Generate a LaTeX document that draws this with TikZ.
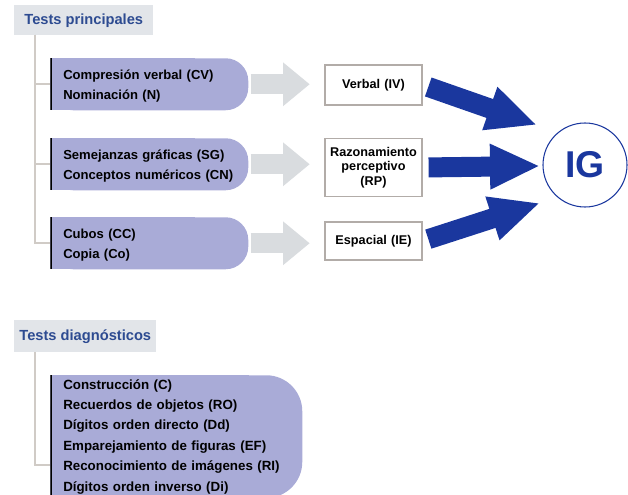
\documentclass[tikz,border=0pt]{standalone}
\usepackage{fontspec}
\setmainfont{Liberation Sans}
\usepackage{tikz}
\usetikzlibrary{arrows.meta}

\definecolor{lavfill}{RGB}{169,171,215}
\definecolor{hdrgray}{RGB}{226,229,233}
\definecolor{titleblue}{RGB}{45,75,145}
\definecolor{trunkgray}{RGB}{208,203,198}
\definecolor{boxgray}{RGB}{178,172,168}
\definecolor{arrgray}{RGB}{217,220,223}
\definecolor{igblue}{RGB}{26,55,158}

\tikzset{
  hdr/.style={fill=hdrgray, anchor=north west, inner xsep=0pt, minimum height=22.5pt,
    text=titleblue, font=\fontsize{11}{13}\selectfont\bfseries},
  itembox/.style={anchor=north west, inner xsep=9.75pt, inner ysep=0pt, align=left,
    minimum width=147pt, minimum height=39pt, text width=129pt,
    font=\fontsize{9.8}{15}\selectfont\bfseries,
    path picture={
      \fill[lavfill, rounded corners=#1] (path picture bounding box.south west) rectangle (path picture bounding box.north east);
      \fill[lavfill] (path picture bounding box.south west) rectangle ([xshift=-40pt]path picture bounding box.north east);
      \draw[line width=3pt] (path picture bounding box.south west) -- (path picture bounding box.north west);
    }},
  itembox/.default=17pt,
  smallitem/.style={itembox, text height=10pt},
  labelbox/.style={draw=boxgray, line width=0.9pt, minimum width=72.75pt, text width=70pt,
    inner xsep=0pt, align=center, font=\fontsize{9.5}{10.8}\selectfont\bfseries},
  trunk/.style={draw=trunkgray, line width=1.2pt},
  grayarr/.style={draw=arrgray, line width=15pt, -{Triangle[length=20pt,width=31.5pt]},
    shorten <=1.5pt, shorten >=11pt},
  bluearr/.style={draw=igblue, line width=15pt, -{Triangle[length=37.5pt,width=31.5pt]},
    shorten <=4.5pt}
}

\begin{document}
\begin{tikzpicture}[x=0.75pt,y=0.75pt,yscale=-1,xscale=1]
\path[use as bounding box] (0,0) rectangle (628,495);

% headers
\node[hdr, minimum width=104.25pt] (hdrA) at (14,5) {Tests principales};
\node[hdr, minimum width=106.5pt, minimum height=24pt] (hdrB) at (14,320) {Tests diagn\'osticos};

% subtests
\node[smallitem] (cv) at (50,58) {Compresi\'on verbal (CV)\\Nominaci\'on (N)};
\node[smallitem] (sg) at (50,138) {Semejanzas gr\'aficas (SG)\\Conceptos num\'ericos (CN)};
\node[smallitem] (cc) at (50,217) {Cubos (CC)\\Copia (Co)};
\node[itembox=27pt, minimum width=189pt, text width=169.5pt, minimum height=92pt,
  font=\fontsize{10}{15.3}\selectfont\bfseries] (diag) at (50,375)
  {Construcci\'on (C)\\Recuerdos de objetos (RO)\\D\'igitos orden directo (Dd)\\Emparejamiento de figuras (EF)\\Reconocimiento de im\'agenes (RI)\\D\'igitos orden inverso (Di)};

% indices
\node[labelbox, minimum height=30pt] (iv) at (373.5,85) {Verbal (IV)};
\node[labelbox, minimum height=44pt] (rp) at (373.5,167.5) {Razonamiento\\perceptivo\\(RP)};
\node[labelbox, minimum height=28.5pt] (ie) at (373.5,241) {Espacial (IE)};

\node[circle, draw=igblue, line width=0.8pt, minimum size=63pt, inner sep=0pt, text=igblue,
  font=\fontsize{28}{30}\selectfont\bfseries] (ig) at (585,165) {IG};

% tree lines
\coordinate (trunkA) at (35,35);
\coordinate (trunkB) at (35,352);
\coordinate (tieB) at (50,465);
\draw[trunk] (trunkA) |- (cv.west);
\draw[trunk] (trunkA) |- (sg.west);
\draw[trunk] (trunkA) |- (cc.west);
\draw[trunk] (trunkB) |- (tieB);

% gray arrows
\draw[grayarr] (cv.east) -- (cv.east -| iv.west);
\draw[grayarr] (sg.east) -- (sg.east -| rp.west);
\draw[grayarr] (cc.east) -- (cc.east -| ie.west);

% blue arrows
\coordinate (tipA) at (537,125);
\coordinate (tipB) at (540,166);
\coordinate (tipC) at (540,203);
\draw[bluearr] (iv.east) -- (tipA);
\draw[bluearr] (rp.east) -- (tipB);
\draw[bluearr] (ie.east) -- (tipC);

\end{tikzpicture}
\end{document}
